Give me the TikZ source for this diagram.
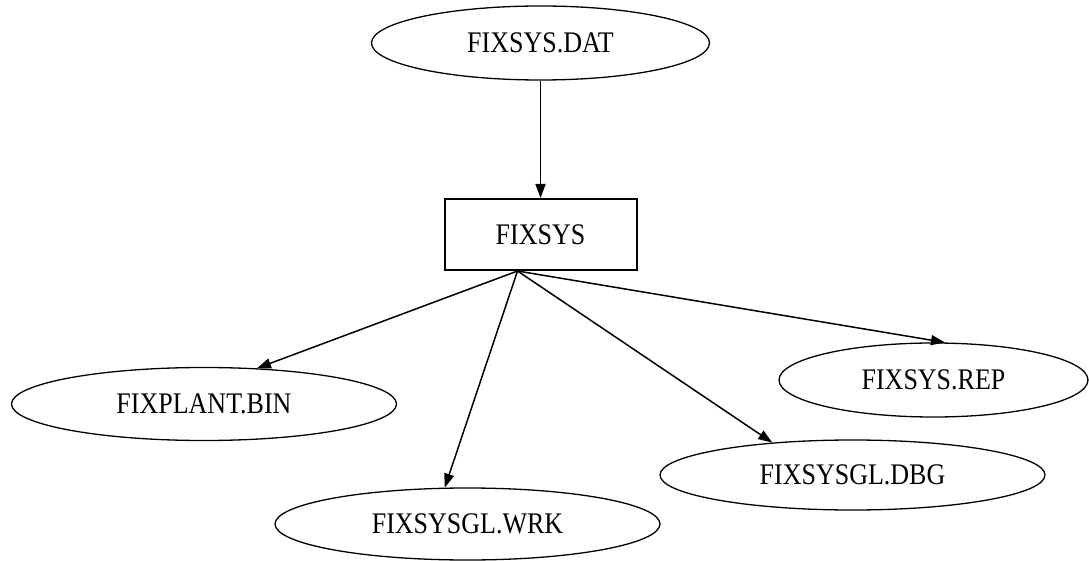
\documentclass[tikz,border=0pt]{standalone}
\usepackage{fontspec}
\setmainfont{Liberation Serif}
\usetikzlibrary{shapes.geometric,arrows.meta}
\newcommand\tallname[1]{\scalebox{1}[1.15]{#1}}
\begin{document}
\begin{tikzpicture}[x=1pt,y=-1pt,
  every node/.style={font=\fontsize{26}{30}\selectfont, inner sep=0pt},
  file/.style={ellipse, draw, line width=1.3pt},
  prog/.style={rectangle, draw, line width=2pt},
  flow/.style={-{Triangle[length=14pt,width=10pt]}, line width=1.5pt}]
\useasboundingbox (0,0) rectangle (1089,561);
% data file feeding the program
\node[file, minimum width=338pt, minimum height=74pt] (dat) at (540.5,43) {\tallname{FIXSYS.DAT}};
\node[prog, minimum width=192pt, minimum height=71pt] (sys) at (540.5,234.5) {\tallname{FIXSYS}};
% output files
\node[file, minimum width=385pt, minimum height=73pt] (bin) at (204,404) {\tallname{FIXPLANT.BIN}};
\node[file, minimum width=385pt, minimum height=72pt] (wrk) at (467.5,524) {\tallname{FIXSYSGL.WRK}};
\node[file, minimum width=385pt, minimum height=70pt] (dbg) at (852.5,475) {\tallname{FIXSYSGL.DBG}};
\node[file, minimum width=309pt, minimum height=74pt] (rep) at (933.5,380) {\tallname{FIXSYS.REP}};
\coordinate (hub) at ([xshift=-23pt]sys.south);
\draw[flow] (dat) -- (sys);
\draw[flow] (hub) -- (bin.34);
\draw[flow] (hub) -- (wrk.122);
\draw[flow] (hub) -- (dbg.158);
\draw[flow] (hub) -- (rep.73);
\end{tikzpicture}
\end{document}
